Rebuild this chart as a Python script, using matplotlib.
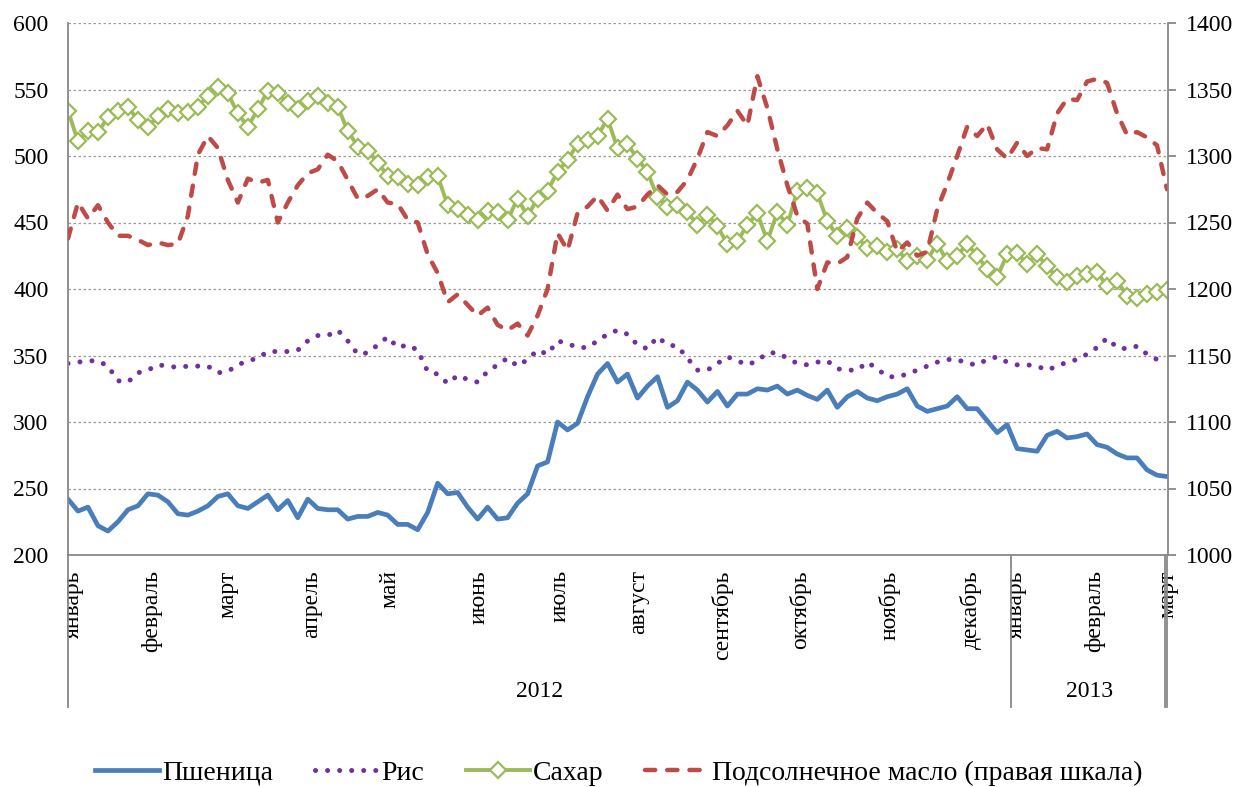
import numpy as np
import matplotlib
matplotlib.use('Agg')
import matplotlib.pyplot as plt

plt.rcParams['font.family'] = ['Liberation Serif', 'DejaVu Serif']

# values, one sample every ~10 px along the time axis
wheat = [242, 233, 236, 222, 218, 225, 234, 237, 246, 245,
         240, 231, 230, 233, 237, 244, 246, 237, 235, 240,
         245, 234, 241, 228, 242, 235, 234, 234, 227, 229,
         229, 232, 230, 223, 223, 219, 232, 254, 246, 247,
         236, 227, 236, 227, 228, 239, 246, 267, 270, 300,
         294, 299, 319, 336, 344, 330, 336, 318, 327, 334,
         311, 316, 330, 324, 315, 323, 312, 321, 321, 325,
         324, 327, 321, 324, 320, 317, 324, 311, 319, 323,
         318, 316, 319, 321, 325, 312, 308, 310, 312, 319,
         310, 310, 301, 292, 298, 280, 279, 278, 290, 293,
         288, 289, 291, 283, 281, 276, 273, 273, 264, 260, 259]

rice = [344, 345, 346, 346, 342, 331, 330, 337, 339, 343,
        342, 341, 342, 342, 342, 337, 338, 343, 346, 348,
        353, 353, 353, 354, 361, 365, 365, 369, 361, 351,
        352, 358, 364, 356, 358, 354, 338, 336, 329, 335,
        332, 330, 338, 343, 348, 342, 347, 354, 351, 361,
        359, 356, 356, 361, 366, 369, 366, 358, 355, 364,
        358, 357, 348, 339, 339, 344, 349, 346, 343, 346,
        352, 352, 348, 344, 343, 345, 346, 340, 339, 339,
        345, 340, 334, 334, 336, 339, 342, 345, 347, 347,
        344, 343, 347, 349, 345, 343, 343, 342, 339, 342,
        345, 347, 351, 356, 363, 356, 355, 357, 351, 347, 344]

sugar = [534, 511, 519, 518, 529, 534, 537, 527, 522, 530,
         535, 532, 533, 537, 545, 552, 547, 532, 522, 535,
         549, 547, 540, 535, 541, 545, 540, 537, 519, 507,
         504, 495, 485, 484, 479, 478, 484, 485, 463, 460,
         456, 452, 459, 458, 452, 468, 455, 468, 474, 488,
         497, 509, 512, 515, 528, 506, 509, 498, 488, 469,
         462, 463, 458, 448, 456, 447, 434, 436, 448, 457,
         436, 458, 448, 474, 476, 472, 451, 440, 446, 439,
         431, 432, 428, 430, 421, 425, 422, 434, 421, 425,
         434, 425, 415, 409, 426, 427, 419, 426, 417, 409,
         405, 410, 411, 413, 402, 406, 395, 393, 396, 398, 399]

oil = [1238, 1265, 1253, 1263, 1250, 1240, 1240, 1237, 1233, 1235,
       1233, 1234, 1255, 1301, 1315, 1306, 1282, 1265, 1283, 1280,
       1282, 1250, 1265, 1278, 1287, 1290, 1301, 1296, 1282, 1268,
       1270, 1275, 1265, 1264, 1252, 1250, 1226, 1212, 1190, 1196,
       1188, 1180, 1186, 1173, 1169, 1174, 1165, 1180, 1200, 1242,
       1229, 1257, 1262, 1270, 1259, 1271, 1260, 1262, 1271, 1278,
       1271, 1273, 1282, 1298, 1318, 1315, 1323, 1334, 1323, 1360,
       1336, 1305, 1278, 1255, 1249, 1200, 1220, 1219, 1224, 1253,
       1265, 1257, 1251, 1228, 1235, 1225, 1228, 1260, 1279, 1300,
       1322, 1315, 1324, 1305, 1298, 1310, 1300, 1306, 1305, 1332,
       1343, 1342, 1356, 1358, 1355, 1332, 1316, 1318, 1314, 1308, 1275]

month_labels = ['январь', 'февраль', 'март', 'апрель', 'май', 'июнь', 'июль',
                'август', 'сентябрь', 'октябрь', 'ноябрь', 'декабрь',
                'январь', 'февраль', 'март']
month_pos = [0.5, 8.4, 16.0, 24.4, 32.2, 41.1, 49.3, 57.1, 65.5, 73.3,
             82.2, 90.4, 94.9, 102.8, 110.1]
years = ['2012', '2013']
year_bounds = [0, 94.4, 110]

GREY = '#888888'


def main() -> None:
    day = np.arange(len(wheat))

    fig = plt.figure(figsize=(12.5, 7.87), dpi=100)
    ax = fig.add_axes([68 / 1250, 1 - 555 / 787, 1100 / 1250, 532 / 787])
    ax2 = ax.twinx()

    h1, = ax.plot(day, wheat, color='#4A7EBB', lw=3.4, solid_joinstyle='round',
                  label='Пшеница')
    h2, = ax.plot(day, rice, color='#7030A0', lw=3.6, linestyle=(0, (0.01, 2.4)),
                  dash_capstyle='round', label='Рис')
    h3, = ax.plot(day, sugar, color='#9BBB59', lw=2.8, marker='D', ms=7.8,
                  mfc='white', mec='#9BBB59', mew=1.6, label='Сахар')
    h4, = ax2.plot(day, oil, color='#BE4B48', lw=3.2, linestyle=(0, (2.3, 2.7)),
                   dash_capstyle='round', label='Подсолнечное масло (правая шкала)')

    ax.set_xlim(0, 110)
    ax.set_ylim(200, 600)
    ax2.set_ylim(1000, 1400)
    ax.set_yticks(np.arange(200, 601, 50))
    ax2.set_yticks(np.arange(1000, 1401, 50))

    ax.set_axisbelow(True)
    ax.yaxis.grid(True, linestyle=(0, (2, 2)), color='#999999', lw=0.9)

    for s in ['top', 'right']:
        ax.spines[s].set_visible(False)
    for s in ['top', 'left', 'bottom']:
        ax2.spines[s].set_visible(False)
    for sp in [ax.spines['left'], ax.spines['bottom'], ax2.spines['right']]:
        sp.set_color(GREY)
        sp.set_linewidth(1.3)

    ax.tick_params(axis='y', length=0, pad=14, labelsize=17)
    ax2.tick_params(axis='y', length=6, width=1.3, color=GREY, pad=7, labelsize=17)
    ax.set_xticks(month_pos, month_labels, rotation=90)
    ax.tick_params(axis='x', length=0, pad=11, labelsize=17)

    # year level of the category axis
    tr = ax.get_xaxis_transform()
    for b in year_bounds + [year_bounds[-1] - 0.25]:
        ax.plot([b, b], [0, -0.286], transform=tr, clip_on=False, color=GREY, lw=1.3)
    for i, y in enumerate(years):
        mid = (year_bounds[i] + year_bounds[i + 1]) / 2
        ax.text(mid, -0.2575, y, transform=tr, ha='center', va='center', fontsize=17)

    fig.legend([h1, h2, h3, h4], [h.get_label() for h in [h1, h2, h3, h4]],
               loc='center', bbox_to_anchor=(0.495, 0.018), ncol=4, frameon=False,
               handlelength=2.3, handletextpad=0.1, columnspacing=1.5, fontsize=20)

    fig.savefig('out.png', dpi=100)
    plt.close(fig)


if __name__ == '__main__':
    main()
